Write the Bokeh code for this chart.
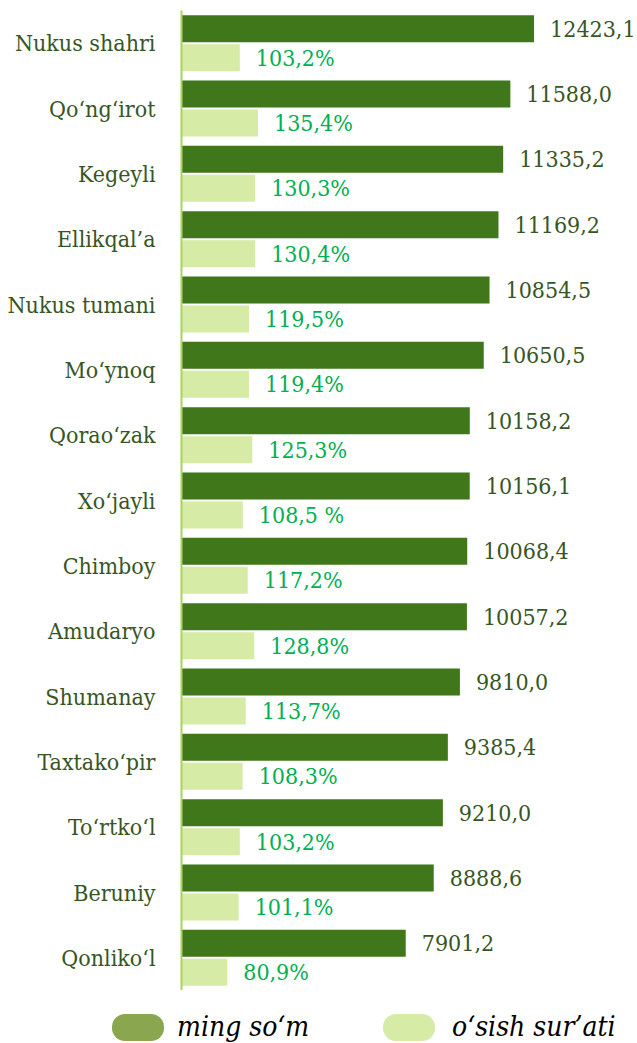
from bokeh.plotting import figure
from bokeh.layouts import column
from bokeh.models import ColumnDataSource, FactorRange, Range1d, Div
from bokeh.transform import dodge
from bokeh.embed import file_html
from bokeh.resources import INLINE
from bokeh.core.properties import value

districts = ["Nukus shahri", "Qo‘ng‘irot", "Kegeyli", "Ellikqal’a", "Nukus tumani",
             "Mo‘ynoq", "Qorao‘zak", "Xo‘jayli", "Chimboy", "Amudaryo", "Shumanay",
             "Taxtako‘pir", "To‘rtko‘l", "Beruniy", "Qonliko‘l"]
amount = [12423.1, 11588.0, 11335.2, 11169.2, 10854.5, 10650.5, 10158.2, 10156.1,
          10068.4, 10057.2, 9810.0, 9385.4, 9210.0, 8888.6, 7901.2]
growth = [103.2, 135.4, 130.3, 130.4, 119.5, 119.4, 125.3, 108.5, 117.2, 128.8,
          113.7, 108.3, 103.2, 101.1, 80.9]
amount_labels = ["12423,1", "11588,0", "11335,2", "11169,2", "10854,5", "10650,5",
                 "10158,2", "10156,1", "10068,4", "10057,2", "9810,0", "9385,4",
                 "9210,0", "8888,6", "7901,2"]
growth_labels = ["103,2%", "135,4%", "130,3%", "130,4%", "119,5%", "119,4%", "125,3%",
                 "108,5 %", "117,2%", "128,8%", "113,7%", "108,3%", "103,2%", "101,1%",
                 "80,9%"]
series_names = ["ming so‘m", "o‘sish sur’ati"]

FONT = "DejaVu Serif Condensed"
DARK = "#41771b"
LIGHT = "#d6eca6"
DARK_LEG = "#8aa64e"
TXT_DARK = "#375623"
TXT_PCT = "#00b050"

src = ColumnDataSource(dict(district=districts, amount=amount, growth=growth,
                            amount_label=amount_labels, growth_label=growth_labels))

p = figure(width=637, height=990, output_backend="svg", toolbar_location=None,
           y_range=FactorRange(factors=districts[::-1]),
           x_range=Range1d(0, 16068),
           min_border_left=181, min_border_right=0, min_border_top=10, min_border_bottom=0)
p.extra_x_ranges = {"pct": Range1d(0, 807)}

p.hbar(y=dodge("district", 0.222, range=p.y_range), left=0, right="amount", height=0.413,
       fill_color=DARK, line_color=None, source=src)
p.hbar(y=dodge("district", -0.222, range=p.y_range), left=0, right="growth", height=0.413,
       fill_color=LIGHT, line_color=None, source=src, x_range_name="pct")

p.text(x="amount", y=dodge("district", 0.222, range=p.y_range), text="amount_label",
       x_offset=16, text_baseline="middle", text_align="left",
       text_font=value(FONT), text_font_size="23px", text_color=TXT_DARK, source=src)
p.text(x="growth", y=dodge("district", -0.222, range=p.y_range), text="growth_label",
       x_offset=16, text_baseline="middle", text_align="left", x_range_name="pct",
       text_font=value(FONT), text_font_size="23px", text_color=TXT_PCT, source=src)

p.xaxis.visible = False
p.xgrid.visible = False
p.ygrid.visible = False
p.outline_line_color = None

ax = p.yaxis[0]
ax.axis_line_color = "#a9d45b"
ax.axis_line_width = 2
ax.major_tick_line_color = None
ax.minor_tick_line_color = None
ax.major_tick_out = 0
ax.major_tick_in = 0
ax.major_label_standoff = 26
ax.major_label_text_font = FONT
ax.major_label_text_font_size = "23px"
ax.major_label_text_color = TXT_DARK

def swatch(left, color):
    return (f'<div style="position:absolute;left:{left}px;top:24px;width:52px;height:27px;'
            f'border-radius:13px;background:{color};"></div>')

def label(left, txt):
    return (f'<div style="position:absolute;left:{left}px;top:21px;line-height:32px;'
            f'white-space:nowrap;">{txt}</div>')

html = ('<div style="position:relative;width:637px;height:53px;overflow:hidden;'
        'font-family:\'DejaVu Serif Condensed\';font-style:italic;'
        'font-size:28px;color:#000;">'
        + swatch(112, DARK_LEG) + label(177, series_names[0])
        + swatch(383, LIGHT) + label(452, series_names[1]) + '</div>')
leg = Div(text=html, width=637, height=53, margin=0)

open("out.html", "w").write(file_html(column(p, leg, spacing=0), INLINE))
